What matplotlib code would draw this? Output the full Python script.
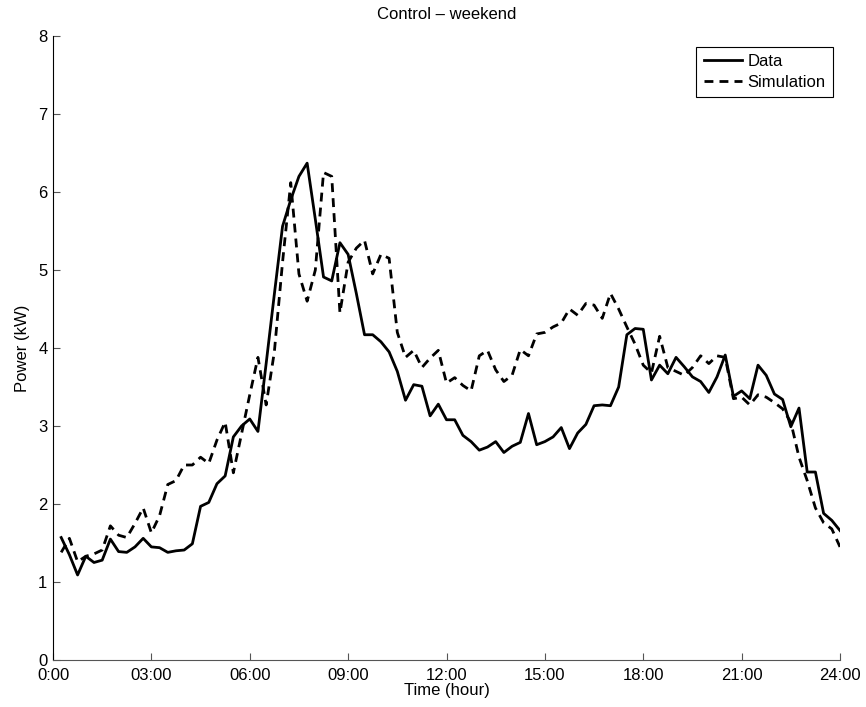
import numpy as np
import matplotlib
matplotlib.use('Agg')
import matplotlib.pyplot as plt

# Time of day in hours, 15-minute steps
hours = np.arange(1, 97) * 0.25

# Measured power (kW)
data_kw = [
    1.57, 1.35, 1.09, 1.33, 1.25, 1.28, 1.55, 1.39, 1.38, 1.45,
    1.56, 1.45, 1.44, 1.38, 1.40, 1.41, 1.49, 1.97, 2.02, 2.26,
    2.36, 2.86, 3.00, 3.09, 2.93, 3.80, 4.69, 5.56, 5.90, 6.20,
    6.37, 5.65, 4.91, 4.86, 5.35, 5.20, 4.70, 4.17, 4.17, 4.08,
    3.95, 3.70, 3.33, 3.53, 3.51, 3.13, 3.28, 3.08, 3.08, 2.88,
    2.80, 2.69, 2.73, 2.80, 2.66, 2.74, 2.79, 3.16, 2.76, 2.80,
    2.86, 2.98, 2.71, 2.91, 3.02, 3.26, 3.27, 3.26, 3.50, 4.17,
    4.25, 4.24, 3.59, 3.78, 3.67, 3.88, 3.76, 3.63, 3.57, 3.43,
    3.63, 3.91, 3.38, 3.45, 3.35, 3.78, 3.65, 3.41, 3.34, 2.99,
    3.23, 2.41, 2.41, 1.88, 1.79, 1.66,
]

# Simulated power (kW)
sim_kw = [
    1.38, 1.56, 1.26, 1.33, 1.36, 1.41, 1.72, 1.60, 1.57, 1.75,
    1.95, 1.63, 1.85, 2.25, 2.30, 2.50, 2.50, 2.60, 2.52, 2.82,
    3.05, 2.40, 2.90, 3.40, 3.88, 3.27, 3.95, 5.10, 6.12, 4.95,
    4.60, 5.00, 6.25, 6.20, 4.45, 5.10, 5.28, 5.38, 4.95, 5.20,
    5.15, 4.20, 3.88, 3.97, 3.75, 3.87, 3.97, 3.55, 3.62, 3.52,
    3.45, 3.90, 3.97, 3.72, 3.57, 3.65, 3.98, 3.90, 4.18, 4.20,
    4.27, 4.32, 4.50, 4.42, 4.57, 4.55, 4.38, 4.70, 4.50, 4.27,
    4.05, 3.78, 3.68, 4.15, 3.75, 3.70, 3.65, 3.75, 3.90, 3.80,
    3.90, 3.88, 3.35, 3.37, 3.27, 3.40, 3.37, 3.30, 3.22, 3.05,
    2.60, 2.30, 1.95, 1.76, 1.68, 1.45,
]

x_ticks = [0, 3, 6, 9, 12, 15, 18, 21, 24]
x_tick_labels = ['0:00', '03:00', '06:00', '09:00', '12:00',
                 '15:00', '18:00', '21:00', '24:00']
y_ticks = [0, 1, 2, 3, 4, 5, 6, 7, 8]

plt.rcParams['font.family'] = ['Liberation Sans', 'DejaVu Sans']
plt.rcParams['font.size'] = 12

fig = plt.figure(figsize=(8.66, 7.07), dpi=100)
ax = fig.add_axes([53 / 866, 47 / 707, 787 / 866, 624 / 707])

ax.plot(hours, data_kw, color='black', linewidth=2.0, label='Data')
ax.plot(hours, sim_kw, color='black', linewidth=2.0, dashes=(3.2, 2.2),
        label='Simulation')

ax.set_xlim(0, 24)
ax.set_ylim(0, 8)
ax.set_xticks(x_ticks)
ax.set_xticklabels(x_tick_labels)
ax.set_yticks(y_ticks)

# MATLAB-like axes: only left and bottom, ticks pointing inward
ax.spines['top'].set_visible(False)
ax.spines['right'].set_visible(False)
ax.spines['left'].set_color('#000000')
ax.spines['bottom'].set_color('#555555')
ax.tick_params(direction='in', length=5, width=0.8, colors='#555555',
               labelcolor='black', labelsize=12)
ax.tick_params(axis='x', pad=5.5)
ax.tick_params(axis='y', pad=4)

ax.set_xlabel('Time (hour)', fontsize=12, labelpad=0)
ax.set_ylabel('Power (kW)', fontsize=12, labelpad=6)
ax.set_title('Control \u2013 weekend', fontsize=12, pad=12)

leg = ax.legend(loc='upper right', bbox_to_anchor=(0.991, 0.983),
                fancybox=False, edgecolor='black', framealpha=1,
                fontsize=12, handlelength=2.3, handletextpad=0.3,
                borderpad=0.45, labelspacing=0.35, borderaxespad=0)
leg.get_frame().set_linewidth(0.8)

fig.savefig('out.png', dpi=100)
